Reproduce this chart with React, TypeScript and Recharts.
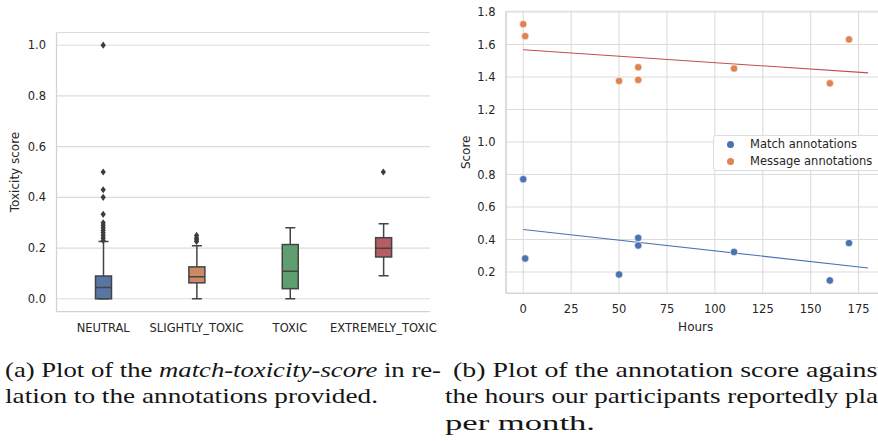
import React from 'react';
import {
  ComposedChart, Bar, Scatter, Line, XAxis, YAxis, CartesianGrid, Legend, Label,
} from 'recharts';

// ---------- data: left box plot ----------
const categories = ['NEUTRAL', 'SLIGHTLY_TOXIC', 'TOXIC', 'EXTREMELY_TOXIC'];
const whiskerLow = [0, 0, 0, 0.091];
const quart1 = [0, 0.063, 0.04, 0.165];
const medians = [0.045, 0.087, 0.109, 0.199];
const quart3 = [0.09, 0.126, 0.214, 0.241];
const whiskerHigh = [0.226, 0.209, 0.28, 0.296];
const neutralOutliers = [1.0, 0.5, 0.43, 0.4, 0.333, 0.3, 0.29, 0.28, 0.27, 0.26, 0.25, 0.24, 0.23];
const slightlyOutliers = [0.25, 0.24, 0.233, 0.226];
const toxicOutliers: number[] = [];
const extremelyOutliers = [0.5];
const toxTicks = [0, 0.2, 0.4, 0.6, 0.8, 1.0];

// ---------- data: right scatter ----------
const matchHours = [0, 1, 50, 60, 60, 110, 160, 170];
const matchScores = [0.771, 0.283, 0.185, 0.41, 0.363, 0.323, 0.148, 0.378];
const messageHours = [0, 1, 50, 60, 60, 110, 160, 170];
const messageScores = [1.725, 1.651, 1.375, 1.46, 1.382, 1.452, 1.361, 1.631];
const fitHours = [0, 180];
const matchFit = [0.462, 0.225];
const messageFit = [1.567, 1.425];
const hourTicks = [0, 25, 50, 75, 100, 125, 150, 175];
const scoreTicks = [0.2, 0.4, 0.6, 0.8, 1.0, 1.2, 1.4, 1.6, 1.8];

// ---------- styles ----------
const boxColors = ['#5975a4', '#cc8963', '#5f9e6e', '#b55d60'];
const EDGE = '#444444';
const GRID = '#dcdcdc';
const SPINE = '#d2d2d2';
const TEXT = '#262626';
const SANS = 'DejaVu Sans';
const SERIF = "'Liberation Serif', 'Times New Roman', Times, serif";

const boxData = categories.map((c, i) => ({
  cat: c, lo: whiskerLow[i], q1: quart1[i], med: medians[i], q3: quart3[i], hi: whiskerHigh[i], color: boxColors[i],
}));
const outlierGroups = [neutralOutliers, slightlyOutliers, toxicOutliers, extremelyOutliers];
const outliers = outlierGroups.flatMap((arr, i) => arr.map((v) => ({ cat: categories[i], v })));

const matchPts = matchHours.map((h, i) => ({ h, s: matchScores[i] }));
const messagePts = messageHours.map((h, i) => ({ h, s: messageScores[i] }));
const matchLine = fitHours.map((h, i) => ({ h, s: matchFit[i] }));
const messageLine = fitHours.map((h, i) => ({ h, s: messageFit[i] }));

const BoxShape = (props: any) => {
  const { x, y, width, height, payload } = props;
  if (x == null || y == null) return <g />;
  const top = Math.min(y, y + height);
  const span = Math.abs(height);
  const { lo, hi, q1, q3, med, color } = payload;
  const py = (v: number) => top + ((hi - v) / (hi - lo)) * span;
  const cx = x + width / 2;
  const capW = 10;
  const sw = 1.5;
  return (
    <g>
      <line x1={cx} x2={cx} y1={py(hi)} y2={py(q3)} stroke={EDGE} strokeWidth={sw} />
      <line x1={cx} x2={cx} y1={py(q1)} y2={py(lo)} stroke={EDGE} strokeWidth={sw} />
      <line x1={cx - capW / 2} x2={cx + capW / 2} y1={py(hi)} y2={py(hi)} stroke={EDGE} strokeWidth={sw} />
      <line x1={cx - capW / 2} x2={cx + capW / 2} y1={py(lo)} y2={py(lo)} stroke={EDGE} strokeWidth={sw} />
      <rect x={x} y={py(q3)} width={width} height={py(q1) - py(q3)} fill={color} stroke={EDGE} strokeWidth={sw} />
      <line x1={x} x2={x + width} y1={py(med)} y2={py(med)} stroke={EDGE} strokeWidth={sw} />
    </g>
  );
};

const Diamond = (props: any) => {
  const { cx, cy } = props;
  if (cx == null || cy == null) return <g />;
  const w = 2.6, h = 3.6;
  return <polygon points={`${cx},${cy - h} ${cx + w},${cy} ${cx},${cy + h} ${cx - w},${cy}`} fill="#3d3d3d" />;
};

const Dot = (props: any) => {
  const { cx, cy, fill } = props;
  if (cx == null || cy == null) return <g />;
  return <circle cx={cx} cy={cy} r={3.7} fill={fill} stroke="#ffffff" strokeWidth={0.6} />;
};

const tickStyle = { fontSize: 11.5, fill: TEXT, fontFamily: SANS };

const renderLegend = (props: any) => {
  const items = (props.payload || []).filter((p: any) => p.type !== 'none');
  return (
    <div
      style={{
        border: '1px solid #dddddd', borderRadius: 3, background: 'rgba(255,255,255,0.9)',
        width: 172, height: 36, boxSizing: 'border-box', fontFamily: SANS, fontSize: 11.5, color: TEXT,
      }}
    >
      {items.map((it: any) => (
        <div key={it.value} style={{ height: 17, lineHeight: '17px', position: 'relative', paddingLeft: 36, whiteSpace: 'nowrap' }}>
          <span style={{ position: 'absolute', left: 13, top: 5, width: 7, height: 7, borderRadius: '50%', background: it.color }} />
          {it.value}
        </div>
      ))}
    </div>
  );
};

export default function App() {
  return (
    <div style={{ position: 'absolute', left: 0, top: 0, width: 878, height: 441, overflow: 'hidden', background: '#ffffff' }}>
      {/* Left: box plot */}
      <div style={{ position: 'absolute', left: 0, top: 0 }}>
        <ComposedChart width={440} height={340} data={boxData} margin={{ top: 32.5, right: 10, bottom: 0, left: 0 }}>
          <CartesianGrid vertical={false} stroke={GRID} strokeWidth={1.1} />
          <XAxis
            dataKey="cat" type="category" allowDuplicatedCategory={false} height={28.5}
            tickLine={false} axisLine={{ stroke: SPINE, strokeWidth: 1.25 }} tickSize={0} tickMargin={12}
            tick={tickStyle} interval={0}
          />
          <XAxis xAxisId="top" orientation="top" dataKey="cat" height={0} tick={false} tickLine={false}
            axisLine={{ stroke: SPINE, strokeWidth: 1.25 }} />
          <YAxis
            type="number" domain={[-0.05, 1.05]} ticks={toxTicks} allowDataOverflow width={56.5}
            tickFormatter={(v: number) => v.toFixed(1)} tickLine={false} axisLine={{ stroke: SPINE, strokeWidth: 1.25 }}
            tickSize={0} tickMargin={10.5} tick={tickStyle}
          >
            <Label
              content={(p: any) => {
                const vb = p.viewBox || { x: 0, y: 32.5, height: 279 };
                const cx = vb.x + 15;
                const cy = vb.y + vb.height / 2;
                return (
                  <text x={cx} y={cy} transform={`rotate(-90 ${cx} ${cy})`} textAnchor="middle" dominantBaseline="central"
                    fontSize={12} fill={TEXT} fontFamily={SANS}>Toxicity score</text>
                );
              }}
            />
          </YAxis>
          <YAxis yAxisId="right" orientation="right" width={0} domain={[-0.05, 1.05]} tick={false} tickLine={false}
            axisLine={{ stroke: SPINE, strokeWidth: 1.25 }} />
          <Bar dataKey={(d: any) => [d.lo, d.hi]} barSize={16} shape={BoxShape} isAnimationActive={false} />
          <Scatter data={outliers} dataKey="v" shape={Diamond} isAnimationActive={false} />
        </ComposedChart>
      </div>

      {/* Right: scatter with fits */}
      <div style={{ position: 'absolute', left: 440, top: 0 }}>
        <ComposedChart width={460} height={340} margin={{ top: 11.3, right: 14.6, bottom: 0, left: 0 }}>
          <CartesianGrid stroke={GRID} strokeWidth={1.1} />
          <XAxis
            dataKey="h" type="number" domain={[-9, 189]} ticks={hourTicks} allowDataOverflow height={46.7}
            tickLine={false} axisLine={{ stroke: SPINE, strokeWidth: 1.25 }} tickSize={0} tickMargin={12} tick={tickStyle}
          >
            <Label
              content={(p: any) => {
                const vb = p.viewBox || { x: 66, y: 293.3, width: 379.4 };
                return (
                  <text x={vb.x + vb.width / 2} y={vb.y + 37.5} textAnchor="middle" fontSize={12} fill={TEXT} fontFamily={SANS}>Hours</text>
                );
              }}
            />
          </XAxis>
          <XAxis xAxisId="top" orientation="top" dataKey="h" type="number" domain={[-9, 189]} allowDataOverflow height={0}
            tick={false} tickLine={false} axisLine={{ stroke: SPINE, strokeWidth: 1.25 }} />
          <YAxis
            type="number" domain={[0.069, 1.804]} ticks={scoreTicks} allowDataOverflow width={66}
            tickFormatter={(v: number) => v.toFixed(1)} tickLine={false} axisLine={{ stroke: SPINE, strokeWidth: 1.25 }}
            tickSize={0} tickMargin={10.5} tick={tickStyle}
          >
            <Label
              content={(p: any) => {
                const vb = p.viewBox || { x: 0, y: 11.3, height: 282 };
                const cx = vb.x + 26;
                const cy = vb.y + vb.height / 2;
                return (
                  <text x={cx} y={cy} transform={`rotate(-90 ${cx} ${cy})`} textAnchor="middle" dominantBaseline="central"
                    fontSize={12} fill={TEXT} fontFamily={SANS}>Score</text>
                );
              }}
            />
          </YAxis>
          <Scatter name="Match annotations" data={matchPts} dataKey="s" fill="#4c72b0" shape={Dot} isAnimationActive={false} />
          <Scatter name="Message annotations" data={messagePts} dataKey="s" fill="#dd8452" shape={Dot} isAnimationActive={false} />
          <Line data={matchLine} dataKey="s" stroke="#4c72b0" strokeWidth={1.1} dot={false} legendType="none" isAnimationActive={false} />
          <Line data={messageLine} dataKey="s" stroke="#c44e52" strokeWidth={1.1} dot={false} legendType="none" isAnimationActive={false} />
          <Legend
            layout="vertical" align="center" verticalAlign="middle" content={renderLegend}
            wrapperStyle={{ position: 'absolute', left: 273, top: 135, width: 172, height: 36 }}
          />
        </ComposedChart>
      </div>

      {/* Captions */}
      <svg width={878} height={441} style={{ position: 'absolute', left: 0, top: 0, pointerEvents: 'none' }}>
        <g style={{ fontFamily: SERIF, fontSize: 21, fontWeight: 400 }} fill="#151515">
          <text x={5} y={376.5} textLength={436} lengthAdjust="spacingAndGlyphs">
            (a) Plot of the <tspan fontStyle="italic">match-toxicity-score</tspan> in re-
          </text>
          <text x={5} y={403} textLength={373} lengthAdjust="spacingAndGlyphs">lation to the annotations provided.</text>
          <text x={453} y={376.5} textLength={432} lengthAdjust="spacingAndGlyphs">(b) Plot of the annotation score against</text>
          <text x={445} y={403} textLength={472} lengthAdjust="spacingAndGlyphs">the hours our participants reportedly played</text>
          <text x={445} y={429.5} textLength={150} lengthAdjust="spacingAndGlyphs">per month.</text>
        </g>
      </svg>
    </div>
  );
}
